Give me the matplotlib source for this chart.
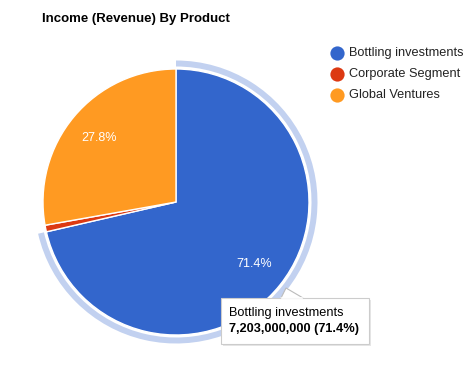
import numpy as np
import matplotlib
matplotlib.use("Agg")
import matplotlib.pyplot as plt
from matplotlib.patches import Wedge, Polygon, FancyBboxPatch

plt.rcParams["font.family"] = ["Liberation Sans", "DejaVu Sans"]

# data
products = ["Bottling investments", "Corporate Segment", "Global Ventures"]
revenue = [7203000000, 81000000, 2804000000]
colors = ["#3366cc", "#dc3912", "#ff9a22"]

W, H = 476, 379
fig = plt.figure(figsize=(W / 100, H / 100), dpi=100)
ax = fig.add_axes([0, 0, 1, 1])

def fy(y):
    return H - y

cx, cy, r = 176, fy(202), 133
total = sum(revenue)
pcts = [v / total * 100 for v in revenue]

wedges, _ = ax.pie(revenue, colors=colors, startangle=90, counterclock=False,
                   radius=r, center=(cx, cy), frame=True,
                   wedgeprops=dict(edgecolor="white", linewidth=1.0))
ax.set_xlim(0, W)
ax.set_ylim(0, H)
ax.set_aspect("equal")
ax.axis("off")

# highlight ring around hovered slice
blue = wedges[0]
ax.add_patch(Wedge((cx, cy), r + 8.5, blue.theta1, blue.theta2, width=6,
                   facecolor="#c2d1f0", edgecolor="none"))

# percent labels
for w, p in zip(wedges, pcts):
    if p < 5:
        continue
    mid = np.deg2rad((w.theta1 + w.theta2) / 2)
    lx = cx + 0.75 * r * np.cos(mid)
    ly = cy + 0.75 * r * np.sin(mid)
    ax.text(lx, ly, f"{p:.1f}%", color="white", fontsize=9, ha="center", va="center")

ax.text(42, fy(19), "Income (Revenue) By Product", fontsize=9.5, fontweight="bold",
        ha="left", va="center", color="#000000")

# legend
for i, (name, c) in enumerate(zip(products, colors)):
    y = fy(53 + 21 * i)
    ax.scatter([337], [y], s=105, color=c, linewidths=0)
    ax.text(349, y, name, fontsize=9.2, color="#222222", ha="left", va="center")

# tooltip
bx0, by0, bx1, by1 = 221, 298, 369, 344
ax.add_patch(FancyBboxPatch((bx0 + 2, fy(by1) - 2), bx1 - bx0, by1 - by0,
                            boxstyle="square,pad=0", facecolor="#e6e6e6",
                            edgecolor="none", zorder=4))
ax.add_patch(Polygon([(281, fy(by0)), (286, fy(288)), (303, fy(by0))],
                     closed=False, facecolor="white", edgecolor="#bbbbbb",
                     linewidth=0.8, zorder=5))
ax.add_patch(FancyBboxPatch((bx0, fy(by1)), bx1 - bx0, by1 - by0,
                            boxstyle="square,pad=0", facecolor="white",
                            edgecolor="#cccccc", linewidth=0.8, zorder=5))
ax.plot([281.6, 302.4], [fy(by0), fy(by0)], color="white", linewidth=1.2, zorder=6)
ax.text(229, fy(313), products[0], fontsize=9.2, color="#000000",
        ha="left", va="center", zorder=7)
ax.text(229, fy(329), f"{revenue[0]:,} ({pcts[0]:.1f}%)", fontsize=9.2,
        fontweight="bold", color="#000000", ha="left", va="center", zorder=7)

fig.savefig("out.png", dpi=100)
